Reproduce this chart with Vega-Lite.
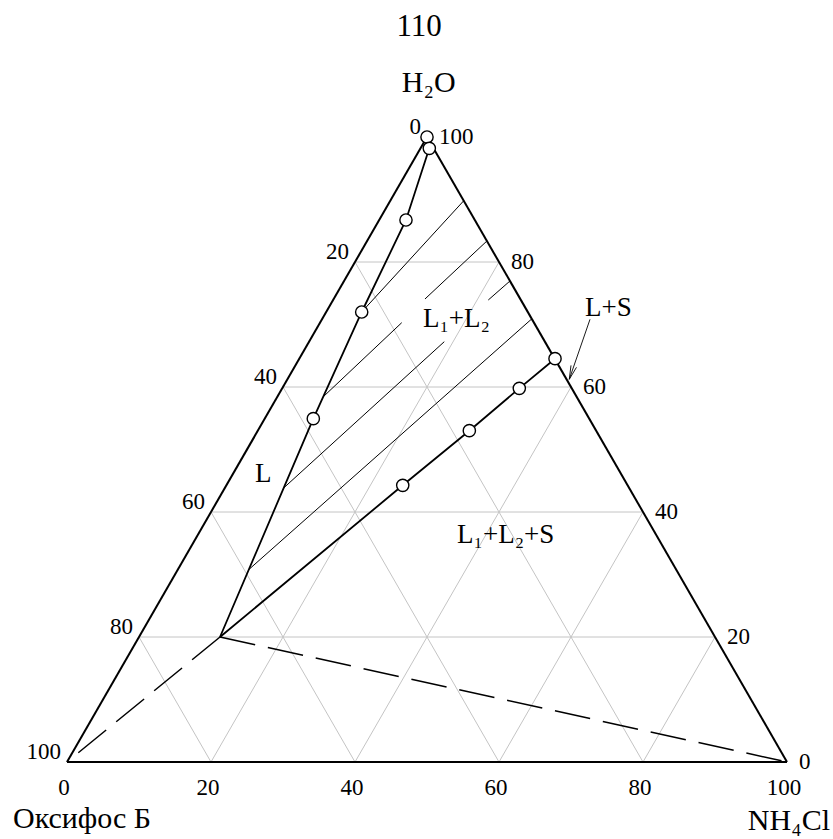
{
  "$schema": "https://vega.github.io/schema/vega-lite/v6.json",
  "width": 720,
  "height": 625,
  "autosize": {"type": "none"},
  "padding": {"left": 67, "top": 137, "right": 46, "bottom": 77},
  "background": "white",
  "config": {"view": {"stroke": null}, "text": {"font": "Liberation Serif", "color": "black"}},
  "datasets": {
    "grid": [
      {"x": 10, "y": 20, "x2": 90, "y2": 20},
      {"x": 20, "y": 40, "x2": 80, "y2": 40},
      {"x": 30, "y": 60, "x2": 70, "y2": 60},
      {"x": 40, "y": 80, "x2": 60, "y2": 80},
      {"x": 20, "y": 0, "x2": 60, "y2": 80},
      {"x": 40, "y": 0, "x2": 70, "y2": 60},
      {"x": 60, "y": 0, "x2": 80, "y2": 40},
      {"x": 80, "y": 0, "x2": 90, "y2": 20},
      {"x": 80, "y": 0, "x2": 40, "y2": 80},
      {"x": 60, "y": 0, "x2": 30, "y2": 60},
      {"x": 40, "y": 0, "x2": 20, "y2": 40},
      {"x": 20, "y": 0, "x2": 10, "y2": 20}
    ],
    "sides": [
      {"x": 0, "y": 0, "x2": 100, "y2": 0},
      {"x": 0, "y": 0, "x2": 50, "y2": 100},
      {"x": 100, "y": 0, "x2": 50, "y2": 100}
    ],
    "ties": [
      {"x": 40.93, "y": 72.0, "x2": 55.1, "y2": 89.8},
      {"x": 35.6, "y": 58.45, "x2": 46.49, "y2": 70.29},
      {"x": 49.72, "y": 74.08, "x2": 58.32, "y2": 83.36},
      {"x": 30.04, "y": 43.79, "x2": 52.4, "y2": 67.25},
      {"x": 58.51, "y": 73.92, "x2": 61.52, "y2": 76.96},
      {"x": 25.18, "y": 30.72, "x2": 64.55, "y2": 70.9}
    ],
    "arrow": [
      {"x": 72.64, "y": 70.83, "x2": 69.76, "y2": 61.23},
      {"x": 69.76, "y": 61.23, "x2": 70.76, "y2": 63.15},
      {"x": 69.76, "y": 61.23, "x2": 70.0, "y2": 63.46}
    ],
    "dashed": [
      {"x": 21.25, "y": 20, "x2": 0, "y2": 0},
      {"x": 21.25, "y": 20, "x2": 100, "y2": 0}
    ],
    "curves": [
      {"grp": "L", "o": 1, "x": 21.25, "y": 20},
      {"grp": "L", "o": 2, "x": 34.21, "y": 54.93},
      {"grp": "L", "o": 3, "x": 40.93, "y": 72.0},
      {"grp": "L", "o": 4, "x": 47.08, "y": 86.72},
      {"grp": "L", "o": 5, "x": 50.32, "y": 98.19},
      {"grp": "L", "o": 6, "x": 50, "y": 100},
      {"grp": "R", "o": 1, "x": 21.25, "y": 20},
      {"grp": "R", "o": 2, "x": 46.63, "y": 44.27},
      {"grp": "R", "o": 3, "x": 55.88, "y": 53.01},
      {"grp": "R", "o": 4, "x": 62.82, "y": 59.79},
      {"grp": "R", "o": 5, "x": 67.78, "y": 64.53}
    ],
    "points": [
      {"x": 50, "y": 100},
      {"x": 50.32, "y": 98.19},
      {"x": 47.08, "y": 86.72},
      {"x": 40.93, "y": 72.0},
      {"x": 34.21, "y": 54.93},
      {"x": 46.63, "y": 44.27},
      {"x": 55.88, "y": 53.01},
      {"x": 62.82, "y": 59.79},
      {"x": 67.78, "y": 64.53}
    ],
    "tickLeft": [
      {"x": 50, "y": 100, "t": "0"},
      {"x": 40, "y": 80, "t": "20"},
      {"x": 30, "y": 60, "t": "40"},
      {"x": 20, "y": 40, "t": "60"},
      {"x": 10, "y": 20, "t": "80"},
      {"x": 0, "y": 0, "t": "100"}
    ],
    "tickRight": [
      {"x": 50, "y": 100, "t": "100"},
      {"x": 60, "y": 80, "t": "80"},
      {"x": 70, "y": 60, "t": "60"},
      {"x": 80, "y": 40, "t": "40"},
      {"x": 90, "y": 20, "t": "20"},
      {"x": 100, "y": 0, "t": "0"}
    ],
    "tickBottom": [
      {"x": 0, "y": 0, "t": "0"},
      {"x": 20, "y": 0, "t": "20"},
      {"x": 40, "y": 0, "t": "40"},
      {"x": 60, "y": 0, "t": "60"},
      {"x": 80, "y": 0, "t": "80"},
      {"x": 100, "y": 0, "t": "100"}
    ],
    "titles": [
      {"x": 46.5, "y": 107.2, "t": "H₂O"},
      {"x": -7.5, "y": -10.56, "t": "Оксифос Б"}
    ],
    "regions": [
      {"x": 26.1, "y": 44.8, "t": "L"},
      {"x": 49.44, "y": 69.6, "t": "L₁+L₂"},
      {"x": 54.17, "y": 35.04, "t": "L₁+L₂+S"},
      {"x": 71.94, "y": 71.36, "t": "L+S"}
    ],
    "page": [{"x": 48.9, "y": 116.2, "t": "110"}],
    "nh": [{"x": 105.97, "y": -10.88, "t": "NH₄Cl"}]
  },
  "encoding": {
    "x": {"field": "x", "type": "quantitative", "scale": {"domain": [0, 100], "nice": false, "zero": false}, "axis": null},
    "y": {"field": "y", "type": "quantitative", "scale": {"domain": [0, 100], "nice": false, "zero": false}, "axis": null}
  },
  "layer": [
    {"data": {"name": "grid"}, "mark": {"type": "rule", "color": "#c4c4c4", "strokeWidth": 1}, "encoding": {"x2": {"field": "x2"}, "y2": {"field": "y2"}}},
    {"data": {"name": "ties"}, "mark": {"type": "rule", "color": "black", "strokeWidth": 1}, "encoding": {"x2": {"field": "x2"}, "y2": {"field": "y2"}}},
    {"data": {"name": "arrow"}, "mark": {"type": "rule", "color": "black", "strokeWidth": 0.9}, "encoding": {"x2": {"field": "x2"}, "y2": {"field": "y2"}}},
    {"data": {"name": "dashed"}, "mark": {"type": "rule", "color": "black", "strokeWidth": 1.5, "strokeDash": [36, 13]}, "encoding": {"x2": {"field": "x2"}, "y2": {"field": "y2"}}},
    {"data": {"name": "sides"}, "mark": {"type": "rule", "color": "black", "strokeWidth": 2}, "encoding": {"x2": {"field": "x2"}, "y2": {"field": "y2"}}},
    {"data": {"name": "curves"}, "mark": {"type": "line", "color": "black", "strokeWidth": 1.8}, "encoding": {"detail": {"field": "grp"}, "order": {"field": "o"}}},
    {"data": {"name": "points"}, "mark": {"type": "point", "shape": "circle", "filled": true, "fill": "white", "stroke": "black", "strokeWidth": 1.4, "size": 150, "opacity": 1}},
    {"data": {"name": "tickLeft"}, "mark": {"type": "text", "font": "Liberation Serif", "align": "right", "baseline": "alphabetic", "dx": -6, "dy": -3, "fontSize": 23}, "encoding": {"text": {"field": "t"}}},
    {"data": {"name": "tickRight"}, "mark": {"type": "text", "font": "Liberation Serif", "align": "left", "baseline": "middle", "dx": 12, "fontSize": 23}, "encoding": {"text": {"field": "t"}}},
    {"data": {"name": "tickBottom"}, "mark": {"type": "text", "font": "Liberation Serif", "align": "center", "baseline": "middle", "dx": -3, "dy": 26, "fontSize": 23}, "encoding": {"text": {"field": "t"}}},
    {"data": {"name": "titles"}, "mark": {"type": "text", "font": "Liberation Serif", "align": "left", "baseline": "alphabetic", "fontSize": 30}, "encoding": {"text": {"field": "t"}}},
    {"data": {"name": "regions"}, "mark": {"type": "text", "font": "Liberation Serif", "align": "left", "baseline": "alphabetic", "fontSize": 27}, "encoding": {"text": {"field": "t"}}},
    {"data": {"name": "page"}, "mark": {"type": "text", "font": "Liberation Serif", "align": "center", "baseline": "alphabetic", "fontSize": 31}, "encoding": {"text": {"field": "t"}}},
    {"data": {"name": "nh"}, "mark": {"type": "text", "font": "Liberation Serif", "align": "right", "baseline": "alphabetic", "fontSize": 30}, "encoding": {"text": {"field": "t"}}}
  ]
}
